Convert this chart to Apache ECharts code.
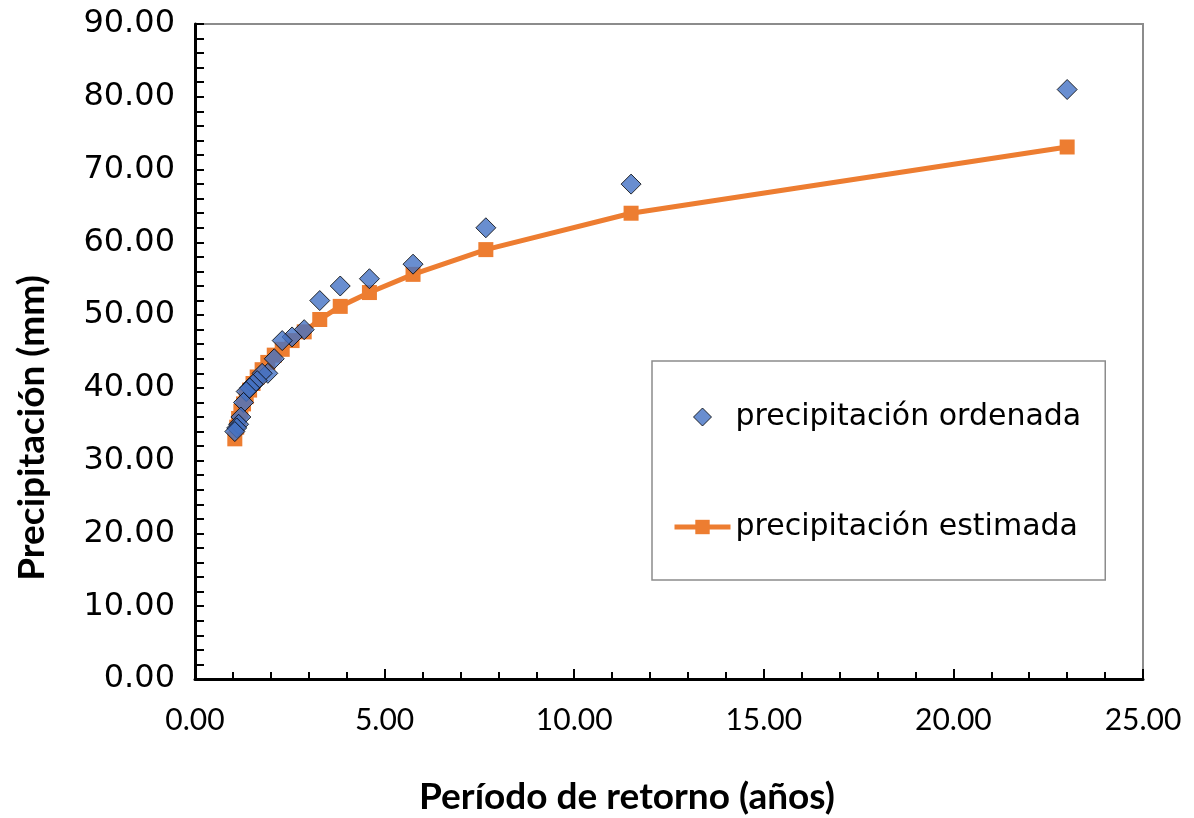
<!DOCTYPE html>
<html>
<head>
<meta charset="utf-8">
<script src="https://cdn.jsdelivr.net/npm/echarts@6/dist/echarts.min.js"></script>
<style>
html,body{margin:0;padding:0;background:#fff;}
#chart{width:1194px;height:818px;}
</style>
</head>
<body>
<div id="chart"></div>
<script>
// Return periods (years)
var periods = [23.00, 11.50, 7.67, 5.75, 4.60, 3.83, 3.29, 2.88, 2.56, 2.30, 2.09, 1.92, 1.77, 1.64, 1.53, 1.44, 1.35, 1.28, 1.21, 1.15, 1.10, 1.05];
// Ordered observed precipitation (mm)
var observed = [81.0, 68.0, 62.0, 57.0, 55.0, 54.0, 52.0, 48.0, 47.0, 46.5, 44.0, 42.0, 42.0, 41.0, 40.5, 40.0, 39.5, 38.0, 36.0, 35.0, 34.5, 34.0];
// Estimated precipitation (mm)
var estimated = [73.1, 64.0, 59.0, 55.6, 53.1, 51.2, 49.4, 47.7, 46.5, 45.3, 44.5, 43.5, 42.5, 41.5, 40.6, 39.7, 38.8, 37.8, 36.8, 35.8, 34.6, 33.0];

var seriesNames = ['precipitación ordenada', 'precipitación estimada'];
var xTitle = 'Período de retorno (años)';
var yTitle = 'Precipitación (mm)';

function pairs(xs, ys) {
  var out = [];
  for (var i = 0; i < xs.length; i++) out.push([xs[i], ys[i]]);
  return out;
}

var chart = echarts.init(document.getElementById('chart'), null, {renderer: 'canvas'});
chart.setOption({
  animation: false,
  backgroundColor: '#fff',
  grid: {
    left: 195, top: 24, right: 51, bottom: 139,
    show: true, borderColor: '#8c8c8c', borderWidth: 2, backgroundColor: 'transparent'
  },
  xAxis: {
    type: 'value', min: 0, max: 25, interval: 5,
    axisLine: {show: true, lineStyle: {color: '#000', width: 3}},
    axisTick: {show: true, inside: true, length: 10, lineStyle: {color: '#000', width: 2}},
    minorTick: {show: true, splitNumber: 5, length: 7, lineStyle: {color: '#000', width: 2}},
    splitLine: {show: false},
    axisLabel: {
      margin: 26, color: '#000', fontFamily: 'Lato', fontSize: 30,
      formatter: function (v) { return v.toFixed(2); }
    }
  },
  yAxis: {
    type: 'value', min: 0, max: 90, interval: 10,
    axisLine: {show: true, lineStyle: {color: '#000', width: 3}},
    axisTick: {show: true, inside: true, length: 9, lineStyle: {color: '#000', width: 2}},
    minorTick: {show: true, splitNumber: 5, length: 9, lineStyle: {color: '#000', width: 2}},
    splitLine: {show: false},
    axisLabel: {
      margin: 20, color: '#000', fontFamily: 'DejaVu Sans', fontSize: 32,
      formatter: function (v) { return v.toFixed(2); }
    }
  },
  legend: {
    orient: 'vertical',
    left: 652, top: 361,
    padding: [39, 24, 36, 20],
    itemGap: 76,
    itemWidth: 56, itemHeight: 18,
    symbolKeepAspect: true,
    borderColor: '#8c8c8c', borderWidth: 1.5,
    backgroundColor: '#fff',
    textStyle: {fontFamily: 'DejaVu Sans', fontSize: 30, color: '#000', lineHeight: 34},
    data: [
      {name: seriesNames[0], icon: 'path://M10,0 L20,10 L10,20 L0,10 Z', symbolKeepAspect: true,
       itemStyle: {color: '#4472C4', borderColor: '#000', borderWidth: 1}},
      {name: seriesNames[1], lineStyle: {width: 5, color: '#ED7D31'}}
    ]
  },
  graphic: [
    {
      type: 'text',
      x: 32, y: 428, rotation: Math.PI / 2,
      style: {text: yTitle, fontFamily: 'Lato', fontWeight: 'bold', fontSize: 37, fill: '#000',
              textAlign: 'center', textVerticalAlign: 'middle'}
    },
    {
      type: 'text',
      x: 627, y: 797,
      style: {text: xTitle, fontFamily: 'Lato', fontWeight: 'bold', fontSize: 37, fill: '#000',
              textAlign: 'center', textVerticalAlign: 'middle'}
    }
  ],
  series: [
    {
      name: seriesNames[0], type: 'scatter', z: 4,
      symbol: 'diamond', symbolSize: 20,
      itemStyle: {color: '#4472C4', borderColor: '#000', borderWidth: 1},
      data: pairs(periods, observed)
    },
    {
      name: seriesNames[1], type: 'line', z: 3,
      symbol: 'rect', symbolSize: 15, showAllSymbol: true,
      lineStyle: {color: '#ED7D31', width: 5},
      itemStyle: {color: '#ED7D31', borderWidth: 0},
      data: pairs(periods, estimated)
    }
  ]
});
</script>
</body>
</html>
